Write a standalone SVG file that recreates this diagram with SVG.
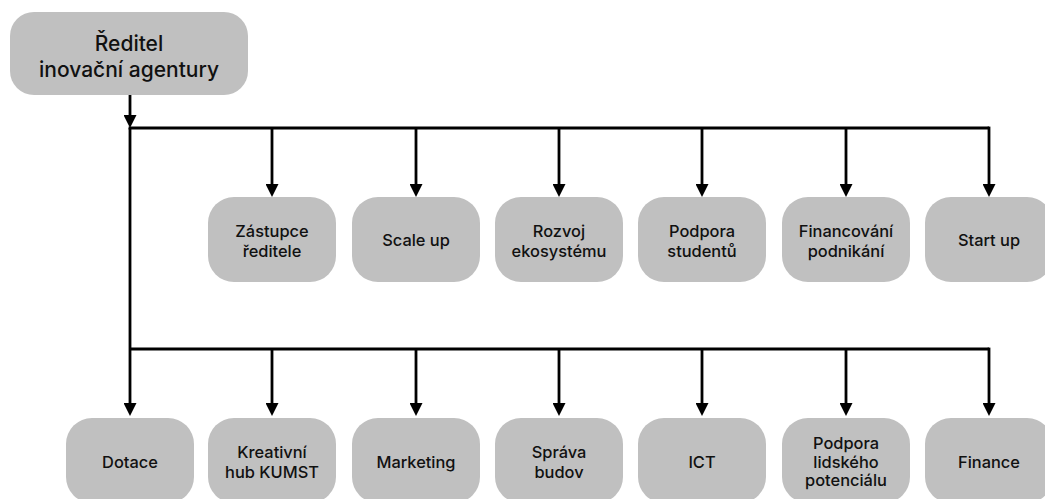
<svg xmlns="http://www.w3.org/2000/svg" width="1045" height="499" viewBox="0 0 1045 499">
<defs>
<marker id="ah" markerUnits="userSpaceOnUse" markerWidth="13" markerHeight="13" refX="4" refY="6.5" orient="auto">
<path d="M0,0 L13,6.5 L0,13 z" fill="#000"/>
</marker>
<style>
.n rect{fill:#c0c0c0;}
.n text{font-family:Inter,"Liberation Sans",sans-serif;font-weight:500;font-size:16.4px;fill:#111;text-anchor:middle;}
.top text{font-size:21px;}
.c path{stroke:#000;stroke-width:2.8;fill:none;}
.c .a{marker-end:url(#ah);}
</style>
</defs>
<rect width="1045" height="499" fill="#fff"/>
<g class="c">
<path class="a" d="M130 95 V119"/>
<path d="M128.6 128 H989"/>
<path class="a" d="M272 128 V188"/>
<path class="a" d="M416 128 V188"/>
<path class="a" d="M559 128 V188"/>
<path class="a" d="M702 128 V188"/>
<path class="a" d="M846 128 V188"/>
<path class="a" d="M989 126.6 V188"/>
<path class="a" d="M130 128 V407"/>
<path d="M130 349 H989"/>
<path class="a" d="M272 349 V407"/>
<path class="a" d="M416 349 V407"/>
<path class="a" d="M559 349 V407"/>
<path class="a" d="M702 349 V407"/>
<path class="a" d="M846 349 V407"/>
<path class="a" d="M989 347.6 V407"/>
</g>
<g id="n-reditel" class="n top"><rect x="10" y="12" width="238" height="83" rx="24"/><text x="129" y="51">Ředitel</text><text x="129" y="77">inovační agentury</text></g>
<g id="n-zastupce" class="n"><rect x="208" y="197" width="128" height="85" rx="26"/><text x="272" y="237">Zástupce</text><text x="272" y="257">ředitele</text></g>
<g id="n-scaleup" class="n"><rect x="352" y="197" width="128" height="85" rx="26"/><text x="416" y="246">Scale up</text></g>
<g id="n-rozvoj" class="n"><rect x="495" y="197" width="128" height="85" rx="26"/><text x="559" y="237">Rozvoj</text><text x="559" y="257">ekosystému</text></g>
<g id="n-podpora" class="n"><rect x="638" y="197" width="128" height="85" rx="26"/><text x="702" y="237">Podpora</text><text x="702" y="257">studentů</text></g>
<g id="n-financovani" class="n"><rect x="782" y="197" width="128" height="85" rx="26"/><text x="846" y="237">Financování</text><text x="846" y="257">podnikání</text></g>
<g id="n-startup" class="n"><rect x="925" y="197" width="128" height="85" rx="26"/><text x="989" y="246">Start up</text></g>
<g id="n-dotace" class="n"><rect x="66" y="418" width="128" height="85" rx="26"/><text x="130" y="468">Dotace</text></g>
<g id="n-kumst" class="n"><rect x="208" y="418" width="128" height="85" rx="26"/><text x="272" y="458">Kreativní</text><text x="272" y="478">hub KUMST</text></g>
<g id="n-marketing" class="n"><rect x="352" y="418" width="128" height="85" rx="26"/><text x="416" y="468">Marketing</text></g>
<g id="n-sprava" class="n"><rect x="495" y="418" width="128" height="85" rx="26"/><text x="559" y="458">Správa</text><text x="559" y="478">budov</text></g>
<g id="n-ict" class="n"><rect x="638" y="418" width="128" height="85" rx="26"/><text x="702" y="468">ICT</text></g>
<g id="n-lidsky" class="n"><rect x="782" y="418" width="128" height="85" rx="26"/><text x="846" y="449">Podpora</text><text x="846" y="467.5">lidského</text><text x="846" y="486">potenciálu</text></g>
<g id="n-finance" class="n"><rect x="925" y="418" width="128" height="85" rx="26"/><text x="989" y="468">Finance</text></g>
</svg>
